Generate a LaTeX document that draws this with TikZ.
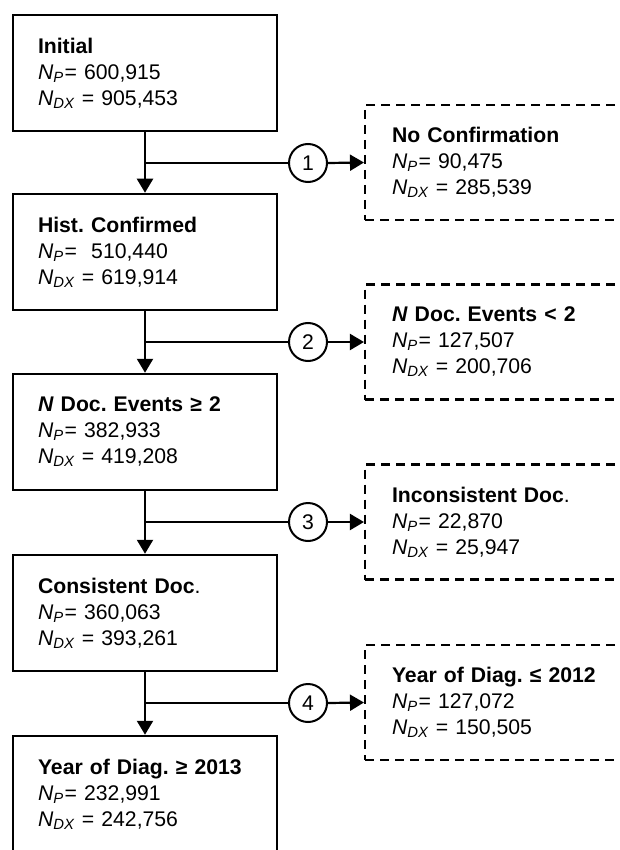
\documentclass[tikz,border=0pt]{standalone}
\usepackage{fontspec}
\setmainfont{Liberation Sans}
\usetikzlibrary{arrows.meta}
\frenchspacing
\newcommand{\NP}{\textit{N}\textsubscript{\textit{P}}\kern1pt}
\newcommand{\NDX}{\textit{N}\textsubscript{\textit{DX}}}
\begin{document}
\begin{tikzpicture}[x=1pt,y=-1pt,
  every node/.style={font=\fontsize{21.2}{26}\selectfont},
  mainbox/.style={draw, line width=2.5pt, minimum width=264pt, minimum height=116pt,
    text width=214pt, align=left, inner xsep=25pt, inner ysep=0pt},
  exclbox/.style={draw, line width=2.1pt, dash pattern=on 9pt off 6pt, minimum width=300pt,
    minimum height=115pt, text width=246pt, align=left, inner xsep=27pt, inner ysep=0pt},
  numcirc/.style={draw, circle, line width=2pt, minimum size=38pt, inner sep=0pt},
  flow/.style={line width=2.2pt, -{Triangle[length=14pt,width=16pt]}},
  plain/.style={line width=2.2pt}]
\useasboundingbox (0,0) rectangle (619,850);
\clip (0,0) rectangle (619,850);

\node[mainbox] (b1) at (145,73) {\textbf{Initial}\\ \NP{}= 600,915\\ \NDX{} = 905,453};
\node[mainbox] (b2) at (145,252) {\textbf{Hist. Confirmed}\\ \NP{}= \ 510,440\\ \NDX{} = 619,914};
\node[mainbox] (b3) at (145,432) {\textbf{\textit{N} Doc. Events ≥ 2}\\ \NP{}= 382,933\\ \NDX{} = 419,208};
\node[mainbox] (b4) at (145,613) {\textbf{Consistent Doc}.\\ \NP{}= 360,063\\ \NDX{} = 393,261};
\node[mainbox] (b5) at (145,794) {\textbf{Year of Diag. ≥ 2013}\\ \NP{}= 232,991\\ \NDX{} = 242,756};

\node[exclbox] (d1) at (515,162.5) {\textbf{No Confirmation}\\ \NP{}= 90,475\\ \NDX{} = 285,539};
\node[exclbox] (d2) at (515,342) {\textbf{\textit{N} Doc. Events < 2}\\ \NP{}= 127,507\\ \NDX{} = 200,706};
\node[exclbox] (d3) at (515,522) {\textbf{Inconsistent Doc}.\\ \NP{}= 22,870\\ \NDX{} = 25,947};
\node[exclbox] (d4) at (515,702.5) {\textbf{Year of Diag. ≤ 2012}\\ \NP{}= 127,072\\ \NDX{} = 150,505};

\node[numcirc] (c1) at (308,163) {1};
\node[numcirc] (c2) at (308,342) {2};
\node[numcirc] (c3) at (308,522) {3};
\node[numcirc] (c4) at (308,703) {4};

\coordinate (j1) at (145,163);
\coordinate (j2) at (145,342);
\coordinate (j3) at (145,522);
\coordinate (j4) at (145,703);

\draw[flow] (b1.south) -- (b2.north);
\draw[flow] (b2.south) -- (b3.north);
\draw[flow] (b3.south) -- (b4.north);
\draw[flow] (b4.south) -- (b5.north);

\draw[plain] (j1) -- (c1.west);
\draw[plain] (j2) -- (c2.west);
\draw[plain] (j3) -- (c3.west);
\draw[plain] (j4) -- (c4.west);

\draw[flow] (c1.east) -- (d1.west);
\draw[flow] (c2.east) -- (d2.west);
\draw[flow] (c3.east) -- (d3.west);
\draw[flow] (c4.east) -- (d4.west);
\end{tikzpicture}
\end{document}
